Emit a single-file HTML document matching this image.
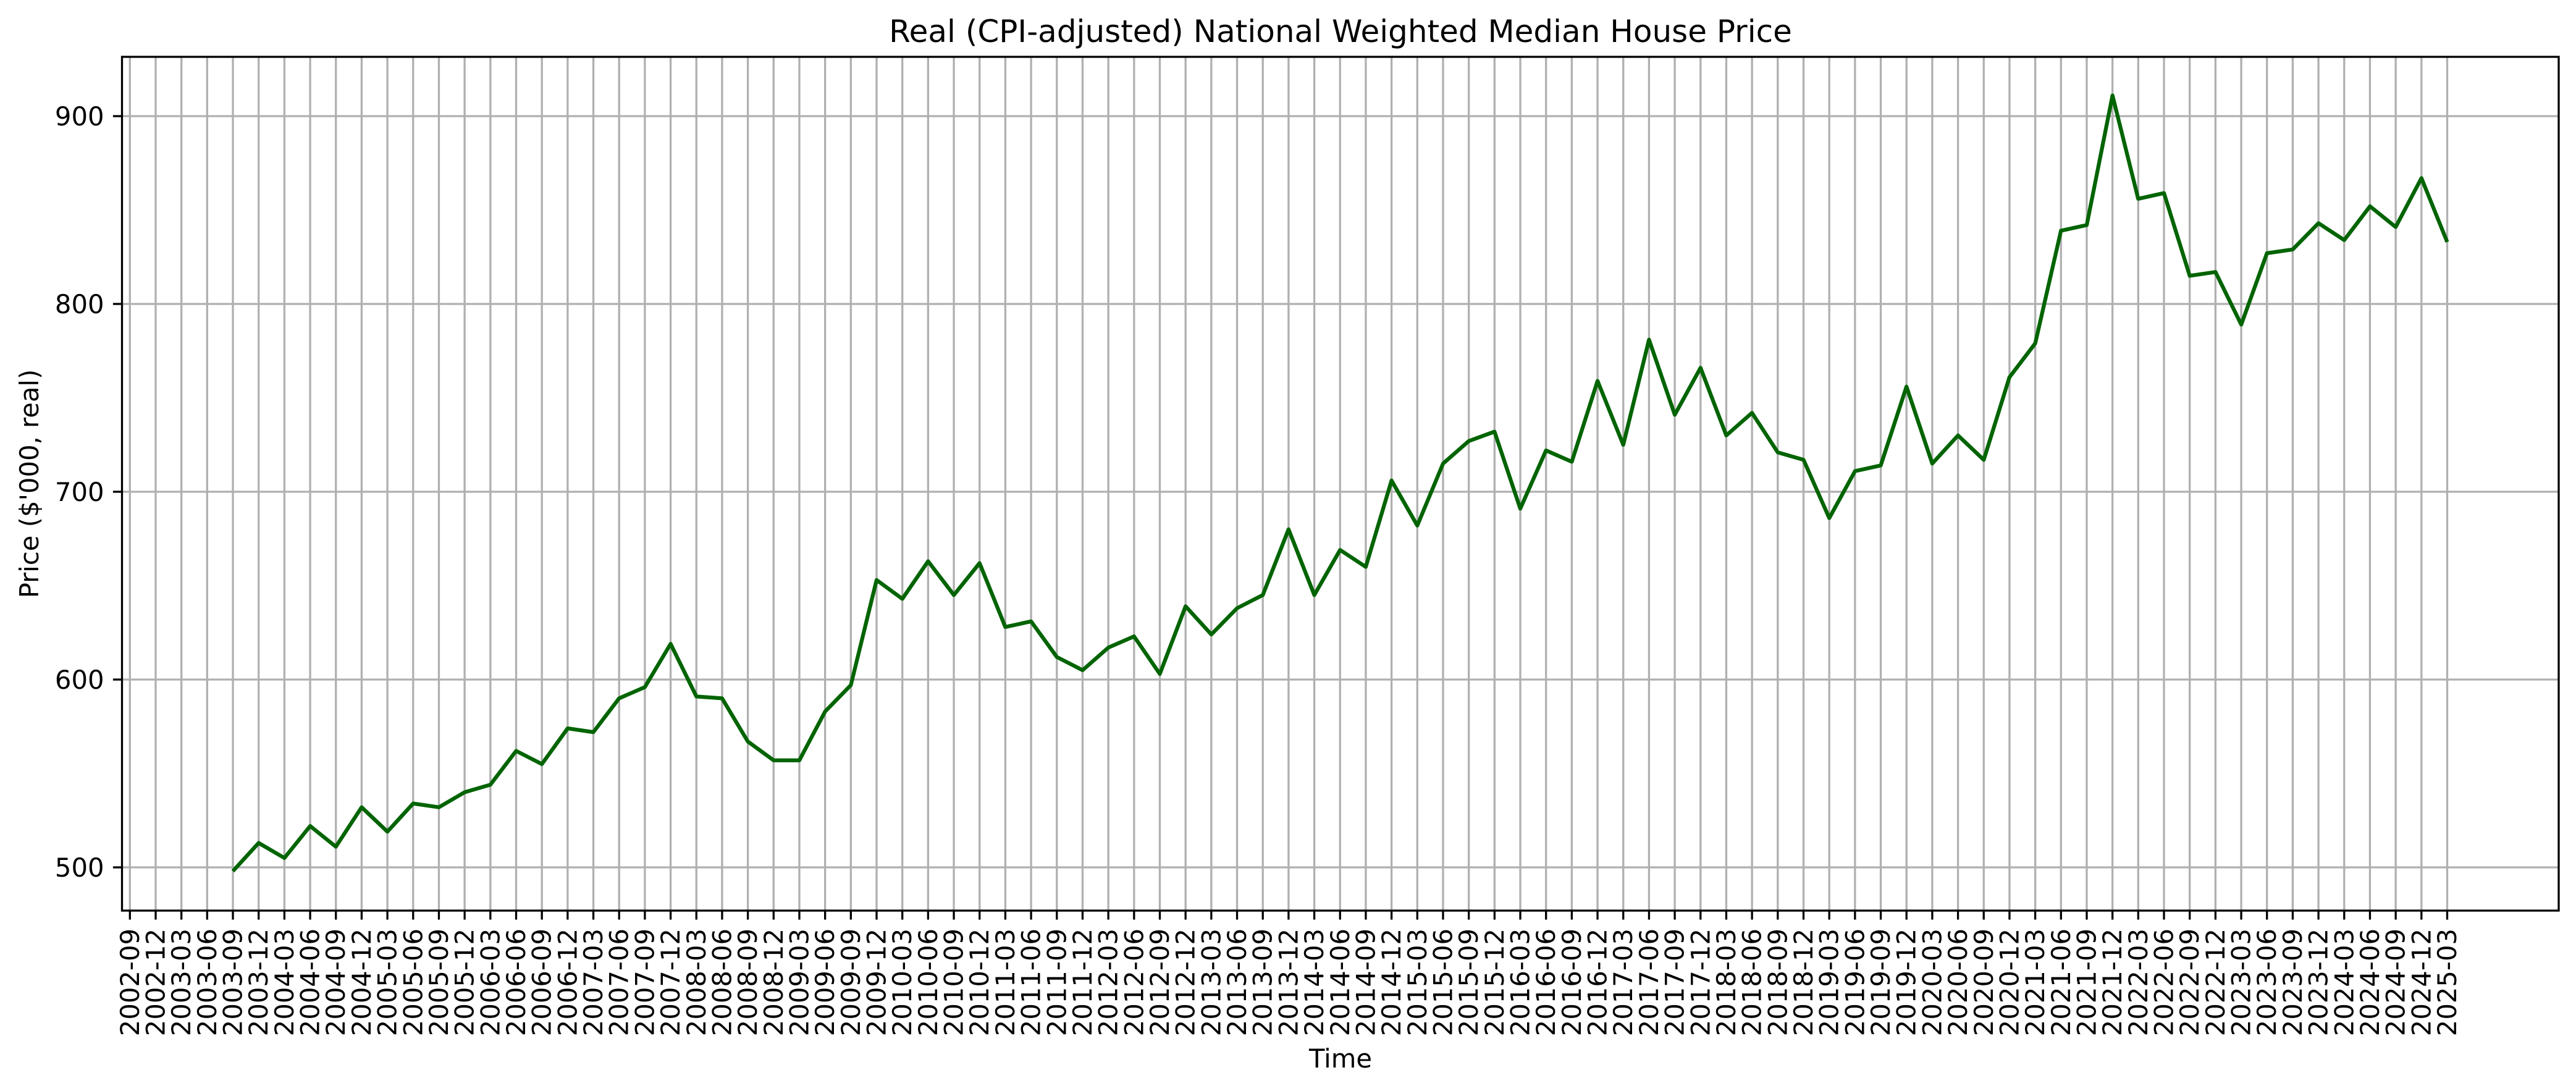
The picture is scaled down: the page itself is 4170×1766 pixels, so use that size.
<!DOCTYPE html>
<html><head><meta charset="utf-8"><style>
html,body{margin:0;padding:0;background:#fff;}
svg{display:block;font-family:"DejaVu Sans","Liberation Sans",sans-serif;}
</style></head><body>
<svg id="chart" width="4170" height="1766" viewBox="0 0 4170 1766" xmlns="http://www.w3.org/2000/svg">
<text x="2170" y="68" font-size="50" text-anchor="middle">Real (CPI-adjusted) National Weighted Median House Price</text>
<g id="grid"></g>
<g id="series"></g>
<rect x="197.5" y="92" width="3944.5" height="1382" fill="none" stroke="#000" stroke-width="3.3"/>
<g id="xaxis"></g>
<g id="yaxis"></g>
<text x="2170" y="1728" font-size="41.7" text-anchor="middle">Time</text>
<text transform="translate(62,783) rotate(-90)" font-size="41.7" text-anchor="middle">Price ($'000, real)</text>
</svg>
<script>
const categories = ["2002-09","2002-12","2003-03","2003-06","2003-09","2003-12","2004-03","2004-06","2004-09","2004-12","2005-03","2005-06","2005-09","2005-12","2006-03","2006-06","2006-09","2006-12","2007-03","2007-06","2007-09","2007-12","2008-03","2008-06","2008-09","2008-12","2009-03","2009-06","2009-09","2009-12","2010-03","2010-06","2010-09","2010-12","2011-03","2011-06","2011-09","2011-12","2012-03","2012-06","2012-09","2012-12","2013-03","2013-06","2013-09","2013-12","2014-03","2014-06","2014-09","2014-12","2015-03","2015-06","2015-09","2015-12","2016-03","2016-06","2016-09","2016-12","2017-03","2017-06","2017-09","2017-12","2018-03","2018-06","2018-09","2018-12","2019-03","2019-06","2019-09","2019-12","2020-03","2020-06","2020-09","2020-12","2021-03","2021-06","2021-09","2021-12","2022-03","2022-06","2022-09","2022-12","2023-03","2023-06","2023-09","2023-12","2024-03","2024-06","2024-09","2024-12","2025-03"];
const priceValues = [null,null,null,null,498,513,505,522,511,532,519,534,532,540,544,562,555,574,572,590,596,619,591,590,567,557,557,583,597,653,643,663,645,662,628,631,612,605,617,623,603,639,624,638,645,680,645,669,660,706,682,715,727,732,691,722,716,759,725,781,741,766,730,742,721,717,686,711,714,756,715,730,717,761,779,839,842,911,856,859,815,817,789,827,829,843,834,852,841,867,833];
const yTicks = [500,600,700,800,900];

const NS = "http://www.w3.org/2000/svg";
const X0 = 210.3, DX = 41.68;
function xPos(i){ return X0 + i*DX; }
function yPos(v){ return 1404 - (v-500)*3.04; }
const TOP=92, BOT=1474, LEFT=197.5, RIGHT=4142;
function mk(tag, attrs, parent){
  const e=document.createElementNS(NS,tag);
  for(const k in attrs) e.setAttribute(k,attrs[k]);
  parent.appendChild(e); return e;
}
const grid=document.getElementById('grid'), xa=document.getElementById('xaxis'), ya=document.getElementById('yaxis'), ser=document.getElementById('series');
categories.forEach((c,i)=>{
  const x=xPos(i);
  const g=mk('line',{x1:x,x2:x,y1:TOP,y2:BOT,stroke:'#b0b0b0','stroke-width':3.3},grid);
  
  
  const t=mk('line',{x1:x,x2:x,y1:BOT,y2:BOT+14.6,stroke:'#000','stroke-width':3.3},xa);
  
  
  const l=mk('text',{transform:`translate(${x+14.5},${BOT+29}) rotate(-90)`,'font-size':41.7,'text-anchor':'end'},xa);
  l.textContent=c;
  
  
});
yTicks.forEach(v=>{
  const y=yPos(v);
  const g=mk('line',{x1:LEFT,x2:RIGHT,y1:y,y2:y,stroke:'#b0b0b0','stroke-width':3.3},grid);
  
  
  const t=mk('line',{x1:LEFT-14.6,x2:LEFT,y1:y,y2:y,stroke:'#000','stroke-width':3.3},ya);
  
  
  const l=mk('text',{x:LEFT-29,y:y+15,'font-size':41.7,'text-anchor':'end'},ya);
  l.textContent=String(v);
  
  
});
let d='';
priceValues.forEach((v,i)=>{ if(v==null) return; d+=(d?'L':'M')+xPos(i).toFixed(1)+','+yPos(v).toFixed(1); });
const p=mk('path',{d:d,fill:'none',stroke:'#006400','stroke-width':6.25,'stroke-linejoin':'round','stroke-linecap':'butt'},ser);


</script>
</body></html>
